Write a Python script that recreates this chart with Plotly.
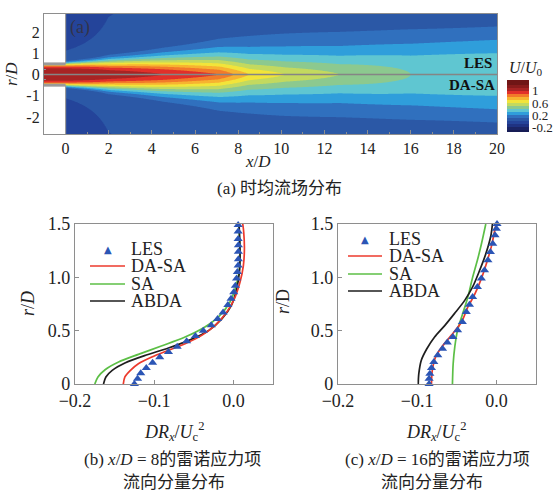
import numpy as np
import plotly.graph_objects as go

W, H = 559, 495

# ---------------- (a) mean axial velocity field U/U0 ----------------
# centreline velocity, half-width and profile-shape exponent at axial stations
X_STATION = [-1.0, 0.0, 2.0, 4.5, 7.1, 7.8, 8.5, 10.2, 12.7, 16.0, 20.0]
UC_LES = [1.05, 1.05, 1.05, 1.00, 0.90, 0.80, 0.70, 0.60, 0.50, 0.40, 0.36]
HW_LES = [0.50, 0.50, 0.58, 0.67, 0.76, 0.79, 0.83, 0.93, 1.10, 1.45, 1.75]
SHAPE_LES = [5.0, 5.0, 2.6, 1.9, 1.45, 1.38, 1.32, 1.3, 1.4, 1.8, 2.4]
UC_DASA = [1.05, 1.05, 1.05, 1.00, 0.90, 0.80, 0.70, 0.60, 0.50, 0.40, 0.36]
HW_DASA = [0.50, 0.50, 0.58, 0.68, 0.77, 0.80, 0.84, 0.94, 1.10, 1.45, 1.75]
SHAPE_DASA = [5.0, 5.0, 2.6, 1.9, 1.45, 1.38, 1.32, 1.3, 1.4, 1.8, 2.4]

LEVEL_START, LEVEL_END, LEVEL_STEP = -0.3, 1.3, 0.1
BAND_COLORS = ["#161c55", "#1b2565", "#1f3383", "#24449a", "#2b58a6", "#3070be",
               "#2f9edb", "#5fc6d1", "#8cc98f", "#c3d95f", "#f2e43a", "#f7b330",
               "#f27a2a", "#e1302a", "#a82424", "#8a1c1c", "#701616", "#701616"]
CB_TICKS = [1, 0.6, 0.2, -0.2]
CB_TEXT = ["1", "0.6", "0.2", "-0.2"]
TOP_X_TICKS = list(range(0, 21, 2))
TOP_R_TICKS = [-2, -1, 0, 1, 2]
TOP_R_TEXT = ["-2", "-1", "0", "1", "2"]
NOZZLE_R, NOZZLE_X0 = 0.5, -1.0
R_LIM = 2.85

# ---------------- (b) x/D = 8 ----------------
B_LES_R = [0, 0.05, 0.10, 0.15, 0.20, 0.25, 0.30, 0.35, 0.40, 0.45, 0.50, 0.55, 0.61, 0.67,
           0.74, 0.80, 0.86, 0.92, 0.99, 1.05, 1.11, 1.17, 1.24, 1.30, 1.36, 1.43, 1.49]
B_LES_V = [-0.125, -0.121, -0.117, -0.110, -0.102, -0.093, -0.082, -0.071, -0.059, -0.048,
           -0.038, -0.028, -0.020, -0.013, -0.007, -0.003, 0.0004, 0.0025, 0.004, 0.005,
           0.006, 0.0063, 0.0063, 0.0063, 0.006, 0.006, 0.006]
B_DASA_R = [0, 0.066, 0.128, 0.19, 0.253, 0.316, 0.378, 0.456, 0.55, 0.675, 0.80, 0.956,
            1.11, 1.27, 1.425, 1.5]
B_DASA_V = [-0.139, -0.137, -0.130, -0.120, -0.103, -0.082, -0.061, -0.040, -0.023, -0.0083,
            0.0013, 0.0084, 0.0126, 0.0139, 0.013, 0.0118]
B_SA_R = [0, 0.066, 0.134, 0.206, 0.278, 0.356, 0.44, 0.534, 0.644, 0.769, 0.909, 1.05,
          1.206, 1.36, 1.5]
B_SA_V = [-0.175, -0.171, -0.162, -0.145, -0.120, -0.091, -0.061, -0.036, -0.017, -0.0043,
          0.0029, 0.0071, 0.0084, 0.0076, 0.0067]
B_ABDA_R = [0, 0.066, 0.128, 0.197, 0.269, 0.337, 0.416, 0.503, 0.613, 0.737, 0.894, 1.05,
            1.206, 1.36, 1.5]
B_ABDA_V = [-0.164, -0.161, -0.153, -0.137, -0.111, -0.082, -0.054, -0.031, -0.0143, -0.0025,
            0.0042, 0.0076, 0.0084, 0.008, 0.0071]

# ---------------- (c) x/D = 16 ----------------
C_LES_R = [0, 0.05, 0.097, 0.15, 0.206, 0.269, 0.331, 0.388, 0.44, 0.503, 0.581, 0.675,
           0.744, 0.816, 0.909, 0.988, 1.066, 1.16, 1.238, 1.316, 1.394, 1.456, 1.5]
C_LES_V = [-0.085, -0.085, -0.084, -0.082, -0.079, -0.074, -0.068, -0.062, -0.055, -0.049,
           -0.043, -0.038, -0.034, -0.030, -0.024, -0.019, -0.015, -0.0107, -0.0076, -0.0046,
           -0.0017, 0.0, 0.0008]
C_DASA_R = [0, 0.125, 0.25, 0.347, 0.456, 0.581, 0.722, 0.831, 0.988, 1.144, 1.3, 1.456, 1.5]
C_DASA_V = [-0.082, -0.081, -0.077, -0.069, -0.057, -0.044, -0.036, -0.028, -0.019, -0.012,
            -0.006, -0.0017, -0.0004]
C_SA_R = [0, 0.19, 0.35, 0.506, 0.66, 0.816, 1.0, 1.16, 1.31, 1.5]
C_SA_V = [-0.0555, -0.0546, -0.0525, -0.049, -0.0425, -0.036, -0.030, -0.024, -0.019, -0.0134]
C_ABDA_R = [0, 0.094, 0.219, 0.328, 0.44, 0.55, 0.66, 0.784, 0.91, 1.05, 1.22, 1.39, 1.5]
C_ABDA_V = [-0.0987, -0.098, -0.095, -0.088, -0.078, -0.065, -0.053, -0.040, -0.030, -0.022,
            -0.0134, -0.007, -0.005]

PROFILE_X_TICKS = [-0.2, -0.1, 0]
PROFILE_R_TICKS = [0, 0.5, 1.0, 1.5]
PROFILE_R_TEXT = ["0", "0.5", "1.0", "1.5"]

COL_LES, COL_DASA, COL_SA, COL_ABDA = "#2b55b5", "#ec3a2c", "#5cbf46", "#1e1e1e"
SERIF = "Times New Roman, Liberation Serif, Noto Sans CJK SC, serif"
GRID_GRAY = "#8e8e8e"


def px(x):
    return x / W


def py(y):
    return 1 - y / H


# build the velocity field from the station data
xg = np.linspace(-1.0, 20.0, 421)
rg = np.linspace(-R_LIM, R_LIM, 286)
Xg, Rg = np.meshgrid(xg, rg)


def jet_field(uc, hw, sh):
    ucx = np.interp(xg, X_STATION, uc)[None, :]
    hwx = np.interp(xg, X_STATION, hw)[None, :]
    shx = np.interp(xg, X_STATION, sh)[None, :]
    return ucx * np.exp(-np.log(2.0) * (np.abs(Rg) / hwx) ** shx)


U = np.where(Rg >= 0, jet_field(UC_LES, HW_LES, SHAPE_LES),
             jet_field(UC_DASA, HW_DASA, SHAPE_DASA))

nslot = len(BAND_COLORS)
cscale = []
for i, c in enumerate(BAND_COLORS):
    lo = max(0.0, (i - 0.5) / (nslot - 1))
    hi = min(1.0, (i + 0.5) / (nslot - 1))
    cscale += [[lo, c], [hi, c]]

fig = go.Figure()
fig.add_trace(go.Contour(
    x=xg, y=rg, z=U, xaxis="x", yaxis="y",
    autocontour=False,
    contours=dict(start=LEVEL_START, end=LEVEL_END, size=LEVEL_STEP,
                  coloring="fill", showlines=False),
    colorscale=cscale, line=dict(width=0),
    colorbar=dict(x=px(507), xanchor="left", xpad=0, ypad=0,
                  y=py(106), yanchor="middle", len=52, lenmode="pixels",
                  thickness=22, thicknessmode="pixels", outlinewidth=0,
                  tickvals=CB_TICKS, ticktext=CB_TEXT, ticks="",
                  tickfont=dict(family=SERIF, size=13, color="#222")),
    hoverinfo="skip", showlegend=False))


def profile(x, y, color, ax, marker=False):
    if marker:
        return go.Scatter(x=x, y=y, mode="markers", xaxis="x" + ax, yaxis="y" + ax,
                          marker=dict(symbol="triangle-up", size=8, color=color),
                          showlegend=False, cliponaxis=False)
    return go.Scatter(x=x, y=y, mode="lines", xaxis="x" + ax, yaxis="y" + ax,
                      line=dict(color=color, width=1.7, shape="spline", smoothing=0.8),
                      showlegend=False)


for ax, les, dasa, sa, abda in [
    ("2", (B_LES_V, B_LES_R), (B_DASA_V, B_DASA_R), (B_SA_V, B_SA_R), (B_ABDA_V, B_ABDA_R)),
    ("3", (C_LES_V, C_LES_R), (C_DASA_V, C_DASA_R), (C_SA_V, C_SA_R), (C_ABDA_V, C_ABDA_R)),
]:
    fig.add_trace(profile(*sa, COL_SA, ax))
    fig.add_trace(profile(*abda, COL_ABDA, ax))
    fig.add_trace(profile(*dasa, COL_DASA, ax))
    fig.add_trace(profile(*les, COL_LES, ax, marker=True))

frame = dict(showline=True, mirror=True, linecolor=GRID_GRAY, linewidth=1.2,
             showgrid=False, zeroline=False, ticks="inside", tickcolor=GRID_GRAY,
             ticklen=4, automargin=False)

fig.update_layout(
    template="none",
    width=W, height=H, margin=dict(l=0, r=0, t=0, b=0, pad=0), autosize=False,
    paper_bgcolor="white", plot_bgcolor="white",
    font=dict(family=SERIF, color="#222"),
    xaxis=dict(frame, domain=[px(44), px(497)], range=[-1, 20], anchor="y",
               tickvals=TOP_X_TICKS, tickfont=dict(size=16),
               minor=dict(ticks="inside", ticklen=2, dtick=1, tickcolor=GRID_GRAY)),
    yaxis=dict(frame, domain=[py(134), py(14)], range=[-2.8, 2.85], anchor="x",
               tickvals=TOP_R_TICKS, ticktext=TOP_R_TEXT, tickfont=dict(size=16),
               minor=dict(ticks="inside", ticklen=2, dtick=0.25, tickcolor=GRID_GRAY)),
    xaxis2=dict(frame, domain=[px(75), px(273)], range=[-0.2, 0.05], anchor="y2",
                tickvals=PROFILE_X_TICKS, tickformat=".1f", tickfont=dict(size=18)),
    yaxis2=dict(frame, domain=[py(384), py(224)], range=[0, 1.5], anchor="x2",
                tickvals=PROFILE_R_TICKS, ticktext=PROFILE_R_TEXT, tickfont=dict(size=18)),
    xaxis3=dict(frame, domain=[px(338), px(536)], range=[-0.2, 0.05], anchor="y3",
                tickvals=PROFILE_X_TICKS, tickformat=".1f", tickfont=dict(size=18)),
    yaxis3=dict(frame, domain=[py(384), py(224)], range=[0, 1.5], anchor="x3",
                tickvals=PROFILE_R_TICKS, ticktext=PROFILE_R_TEXT, tickfont=dict(size=18)),
)

shapes = [
    # blank area outside the nozzle upstream of the exit
    dict(type="rect", xref="x", yref="y", x0=NOZZLE_X0, x1=0, y0=NOZZLE_R, y1=R_LIM,
         fillcolor="white", line=dict(width=0), layer="above"),
    dict(type="rect", xref="x", yref="y", x0=NOZZLE_X0, x1=0, y0=-R_LIM, y1=-NOZZLE_R,
         fillcolor="white", line=dict(width=0), layer="above"),
    # nozzle walls and exit plane
    dict(type="line", xref="x", yref="y", x0=NOZZLE_X0, x1=0, y0=NOZZLE_R, y1=NOZZLE_R,
         line=dict(color="#9a9a9a", width=3), layer="above"),
    dict(type="line", xref="x", yref="y", x0=NOZZLE_X0, x1=0, y0=-NOZZLE_R, y1=-NOZZLE_R,
         line=dict(color="#9a9a9a", width=3), layer="above"),
    dict(type="line", xref="x", yref="y", x0=0, x1=0, y0=NOZZLE_R, y1=R_LIM,
         line=dict(color="#9a9a9a", width=1.2), layer="above"),
    dict(type="line", xref="x", yref="y", x0=0, x1=0, y0=-R_LIM, y1=-NOZZLE_R,
         line=dict(color="#9a9a9a", width=1.2), layer="above"),
    # LES / DA-SA dividing axis
    dict(type="line", xref="x", yref="y", x0=NOZZLE_X0, x1=20, y0=0, y1=0,
         line=dict(color="#858585", width=1.5), layer="above"),
]

annotations = []


def txt(x, y, s, size=17, **kw):
    d = dict(x=px(x), y=py(y), xref="paper", yref="paper", text=s, showarrow=False,
             font=dict(family=kw.pop("family", SERIF), size=size,
                       color=kw.pop("color", "#222")),
             xanchor=kw.pop("xanchor", "center"), yanchor=kw.pop("yanchor", "middle"),
             borderpad=0)
    d.update(kw)
    annotations.append(d)


# panel (a) texts
txt(80, 27, "(a)", 18, color="#33334a")
txt(478, 63, "<b>LES</b>", 15, color="#111")
txt(472, 85, "<b>DA-SA</b>", 15, color="#111")
txt(526, 68, "<i>U</i>/<i>U</i><sub>0</sub>", 16)
txt(258, 161, "<i>x</i>/<i>D</i>", 17)
txt(12, 74, "<i>r</i>/<i>D</i>", 17, textangle=-90)
txt(279, 188, "(a) 时均流场分布", 17)

# panel (b)/(c) axis titles and captions
txt(174, 431, "<i>DR<sub>x</sub></i>/<i>U</i><sub>c</sub><sup>2</sup>", 18)
txt(436, 431, "<i>DR<sub>x</sub></i>/<i>U</i><sub>c</sub><sup>2</sup>", 18)
txt(28, 304, "<i>r</i>/<i>D</i>", 18, textangle=-90)
txt(283, 302, "<i>r</i>/D", 18, textangle=-90)
txt(173, 459, "(b) <i>x</i>/<i>D</i> = 8的雷诺应力项", 17)
txt(174, 482, "流向分量分布", 17)
txt(437, 459, "(c) <i>x</i>/<i>D</i> = 16的雷诺应力项", 17)
txt(432, 482, "流向分量分布", 17)

# legends of the two profile panels
LEGEND_NAMES = ["LES", "DA-SA", "SA", "ABDA"]
LEGEND_COLORS = [COL_LES, COL_DASA, COL_SA, COL_ABDA]
for (lx0, lx1, tx, rows) in [(90, 125, 130, [249, 266, 284, 301]),
                             (348, 382, 388, [239, 256, 274, 291])]:
    for name, col, yy in zip(LEGEND_NAMES, LEGEND_COLORS, rows):
        if name == "LES":
            txt((lx0 + lx1) / 2, yy, "▲", 10, color=col, family="DejaVu Sans")
        else:
            shapes.append(dict(type="line", xref="paper", yref="paper",
                               x0=px(lx0), x1=px(lx1), y0=py(yy), y1=py(yy),
                               line=dict(color=col, width=1.7)))
        txt(tx, yy, name, 18, xanchor="left")

fig.update_layout(shapes=shapes, annotations=annotations)
fig.write_html("out.html")
